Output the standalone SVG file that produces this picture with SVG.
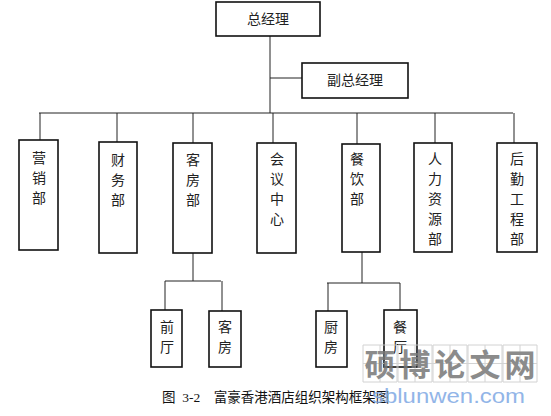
<svg xmlns="http://www.w3.org/2000/svg" width="551" height="416" viewBox="0 0 551 416">
<style>
.box{fill:#fff;stroke:#111;stroke-width:1.6}
.t{font-family:"Noto Sans CJK SC","Noto Sans CJK JP",sans-serif;font-size:14px;fill:#222;text-anchor:middle}
.c{fill:none;stroke:#222;stroke-width:1}
.cap{font-family:"Liberation Serif","Noto Sans CJK SC",serif;font-size:13.5px;fill:#111}
.wm{font-family:"Noto Sans CJK SC",sans-serif;font-size:31px;font-weight:bold;fill:#777;text-anchor:middle}
.grid{fill:none;stroke:#ccc;stroke-width:1}
</style>
<rect width="551" height="416" fill="#fff"/>
<g id="connectors">
<path class="c" d="M270 36V113M270 78H302M39 113H513"/>
<path class="c" d="M40 113V140M117 113V142M193 113V143M273 113V143M357 113V144M435 113V143M514 113V143"/>
<path class="c" d="M193 253V281M165 281H221M165 281V310M222 281V311"/>
<path class="c" d="M362 252V283M327 283H400M328 283V311M400 283V310"/>
</g>
<g id="n-gm"><rect class="box" x="216" y="2" width="104" height="34"/><text class="t" x="268" y="24">总经理</text></g>
<g id="n-dgm"><rect class="box" x="302" y="63" width="106" height="35"/><text class="t" x="355" y="85">副总经理</text></g>
<g id="n-sales"><rect class="box" x="19" y="140" width="39" height="110"/><text class="t" x="39" y="163">营</text><text class="t" x="39" y="183">销</text><text class="t" x="39" y="203">部</text></g>
<g id="n-fin"><rect class="box" x="99" y="142" width="38" height="111"/><text class="t" x="118" y="165">财</text><text class="t" x="118" y="185">务</text><text class="t" x="118" y="205">部</text></g>
<g id="n-room"><rect class="box" x="173" y="143" width="39" height="110"/><text class="t" x="193" y="165">客</text><text class="t" x="193" y="185">房</text><text class="t" x="193" y="205">部</text></g>
<g id="n-conf"><rect class="box" x="257" y="143" width="39" height="110"/><text class="t" x="277" y="164">会</text><text class="t" x="277" y="184">议</text><text class="t" x="277" y="204">中</text><text class="t" x="277" y="224">心</text></g>
<g id="n-fb"><rect class="box" x="342" y="144" width="38" height="108"/><text class="t" x="357" y="164">餐</text><text class="t" x="357" y="184">饮</text><text class="t" x="357" y="204">部</text></g>
<g id="n-hr"><rect class="box" x="414" y="143" width="38" height="109"/><text class="t" x="435" y="164">人</text><text class="t" x="435" y="184">力</text><text class="t" x="435" y="204">资</text><text class="t" x="435" y="224">源</text><text class="t" x="435" y="244">部</text></g>
<g id="n-eng"><rect class="box" x="497" y="143" width="40" height="109"/><text class="t" x="517" y="164">后</text><text class="t" x="517" y="184">勤</text><text class="t" x="517" y="204">工</text><text class="t" x="517" y="224">程</text><text class="t" x="517" y="244">部</text></g>
<g id="n-front"><rect class="box" x="151" y="310" width="31" height="57"/><text class="t" x="167" y="332">前</text><text class="t" x="167" y="352">厅</text></g>
<g id="n-rooms"><rect class="box" x="209" y="311" width="32" height="56"/><text class="t" x="225" y="332">客</text><text class="t" x="225" y="352">房</text></g>
<g id="n-kitchen"><rect class="box" x="316" y="311" width="31" height="56"/><text class="t" x="331" y="332">厨</text><text class="t" x="331" y="352">房</text></g>
<g id="n-rest"><rect class="box" x="384" y="310" width="33" height="57"/><text class="t" x="400" y="332">餐</text><text class="t" x="400" y="352">厅</text></g>
<text class="cap" x="162" y="402" xml:space="preserve">图  3-2    富豪香港酒店组织架构框架图</text>
<g id="watermark" opacity="0.85">
<path class="grid" d="M363 345h34v37h-34zM398 345h34v37h-34zM433 345h34v37h-34zM468 345h34v37h-34zM503 345h34v37h-34zM363 363.5h174M380 345v37M415 345v37M450 345v37M485 345v37M520 345v37"/>
<text class="wm" x="380" y="376">硕</text><text class="wm" x="415" y="376">博</text><text class="wm" x="450" y="376">论</text><text class="wm" x="485" y="376">文</text><text class="wm" x="520" y="376">网</text>
<text x="372" y="403" font-family="Liberation Sans,Arial,sans-serif" font-size="21" fill="#7fa9e4" textLength="153" lengthAdjust="spacingAndGlyphs">sblunwen.com</text>
</g>
</svg>
